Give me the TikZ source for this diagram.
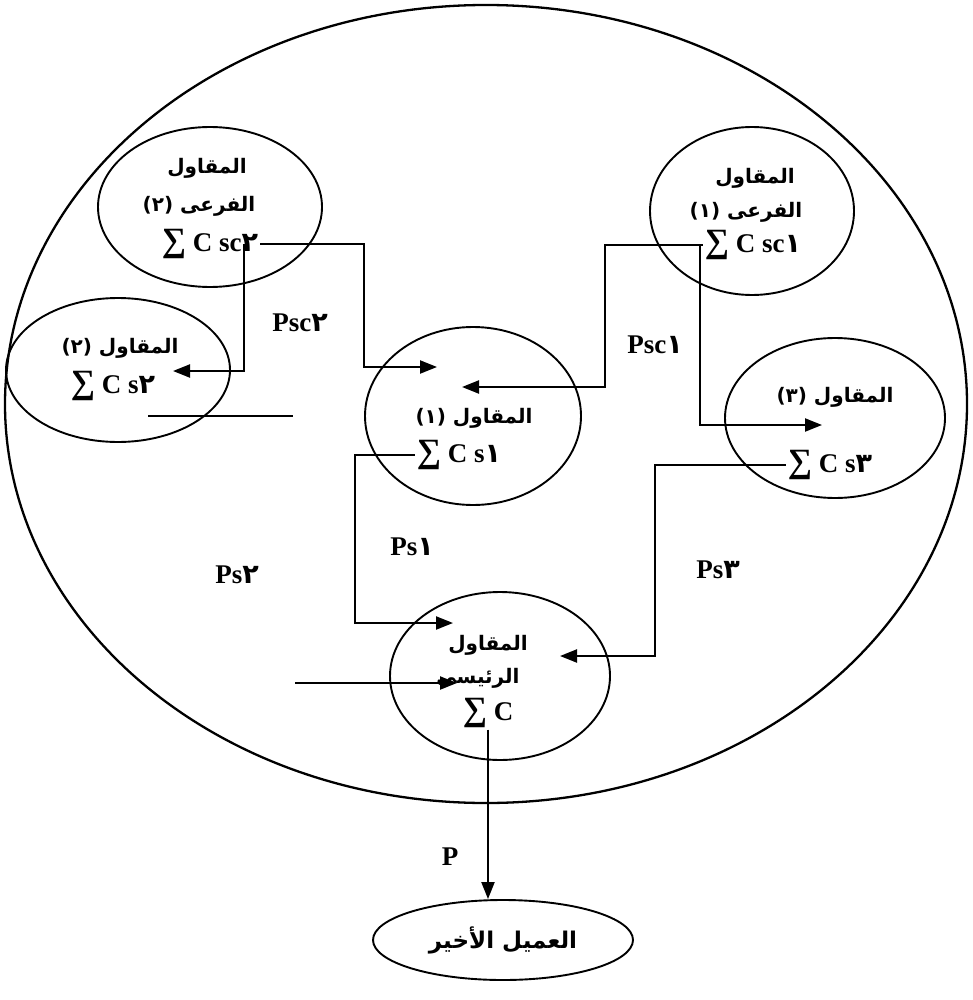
\documentclass[tikz,border=0pt]{standalone}
\usepackage{fontspec}
\setmainfont{Liberation Serif}
\newfontfamily\arabicfont[Script=Arabic]{DejaVu Sans}
\TeXXeTstate=1
\usetikzlibrary{arrows.meta,shapes.geometric}

\newcommand{\arb}[1]{{\arabicfont\bfseries\beginR #1\endR}}
\newcommand{\sumsym}{{\fontsize{34}{34}\selectfont ∑}}

\begin{document}
\begin{tikzpicture}[x=1pt, y=-1pt, line width=1.9pt, line join=miter,
  ell/.style={draw, ellipse, inner sep=0pt},
  lbl/.style={font=\fontsize{27}{30}\selectfont\bfseries, inner sep=1pt},
  arbtxt/.style={font=\fontsize{20}{24}\selectfont, inner sep=1pt},
  flow/.style={line width=2.2pt, -{Triangle[length=17pt,width=13pt]}}]
  \useasboundingbox (0,0) rectangle (973,1000);
  % outer boundary
  \node[ell, line width=2.3pt, minimum width=962, minimum height=798] (all) at (486,404) {};
  % ellipses
  \node[ell, minimum width=224, minimum height=160] (sub2) at (210,207) {};
  \node[ell, minimum width=204, minimum height=168] (sub1) at (752,211) {};
  \node[ell, minimum width=224, minimum height=144] (c2) at (118,370) {};
  \node[ell, minimum width=216, minimum height=178] (c1) at (473,416) {};
  \node[ell, minimum width=220, minimum height=160] (c3) at (835,418) {};
  \node[ell, minimum width=220, minimum height=168] (main) at (500,676) {};
  \node[ell, minimum width=260, minimum height=80, font=\fontsize{23}{26}\selectfont] (cust) at (503,940) {\arb{العميل الأخير}};

  % texts
  \node[arbtxt] (sub2a) at (207,168) {\arb{المقاول}};
  \node[arbtxt] (sub2b) at (199,206) {\arb{الفرعى (٢)}};
  \node[lbl] (sc2) at (210,244) {\sumsym\ C sc\arb{٢}};
  \node[arbtxt] (sub1a) at (755,178) {\arb{المقاول}};
  \node[arbtxt] (sub1b) at (746,212) {\arb{الفرعى (١)}};
  \node[lbl] (sc1) at (753,245) {\sumsym\ C sc\arb{١}};
  \node[arbtxt] (c2t) at (120,348) {\arb{المقاول (٢)}};
  \node[lbl] (s2) at (113,386) {\sumsym\ C s\arb{٢}};
  \node[arbtxt] (c1t) at (474,418) {\arb{المقاول (١)}};
  \node[lbl] (s1) at (459,455) {\sumsym\ C s\arb{١}};
  \node[arbtxt] (c3t) at (835,397) {\arb{المقاول (٣)}};
  \node[lbl] (s3) at (830,465) {\sumsym\ C s\arb{٣}};
  \node[arbtxt] (maina) at (488,645) {\arb{المقاول}};
  \node[arbtxt] (mainb) at (478,678) {\arb{الرئيسى}};
  \node[lbl] (sumC) at (488,713) {\sumsym\ C};

  % flow labels
  \node[lbl] (psc2) at (300,323) {Psc\arb{٢}};
  \node[lbl] (psc1) at (655,345) {Psc\arb{١}};
  \node[lbl] (ps1) at (412,547) {Ps\arb{١}};
  \node[lbl] (ps2) at (237,575) {Ps\arb{٢}};
  \node[lbl] (ps3) at (718,570) {Ps\arb{٣}};
  \node[lbl] (p) at (450,857) {P};

  % turning points and arrow ends
  \coordinate (jA) at (364,367);   \coordinate (c1inL) at (437,367);
  \coordinate (jB) at (244,371);   \coordinate (c2in) at (173,371);
  \coordinate (jC) at (605,387);   \coordinate (c1inR) at (462,387);
  \coordinate (jD) at (700,425);   \coordinate (c3in) at (822,425);
  \coordinate (jE) at (355,623);   \coordinate (mainL) at (453,623);
  \coordinate (jF) at (655,656);   \coordinate (mainR) at (560,656);
  \coordinate (gstart) at (295,683); \coordinate (mainin) at (457,683);
  \coordinate (ha) at (148,416);   \coordinate (hb) at (293,416);

  % connectors
  \draw[flow] (sc2.east) -| (jA) -- (c1inL);
  \draw[flow] (jB |- sc2.east) -- (jB) -- (c2in);
  \draw[flow] (sc1.west) -| (jC) -- (c1inR);
  \draw[flow] (jD |- sc1.west) -- (jD) -- (c3in);
  \draw[flow] (s1.west) -| (jE) -- (mainL);
  \draw[flow] (s3.west) -| (jF) -- (mainR);
  \draw[flow] (gstart) -- (mainin);
  \draw[line width=2.2pt] (ha) -- (hb);
  \draw[flow] (sumC.south) -- (sumC.south |- cust.north);
\end{tikzpicture}
\end{document}
